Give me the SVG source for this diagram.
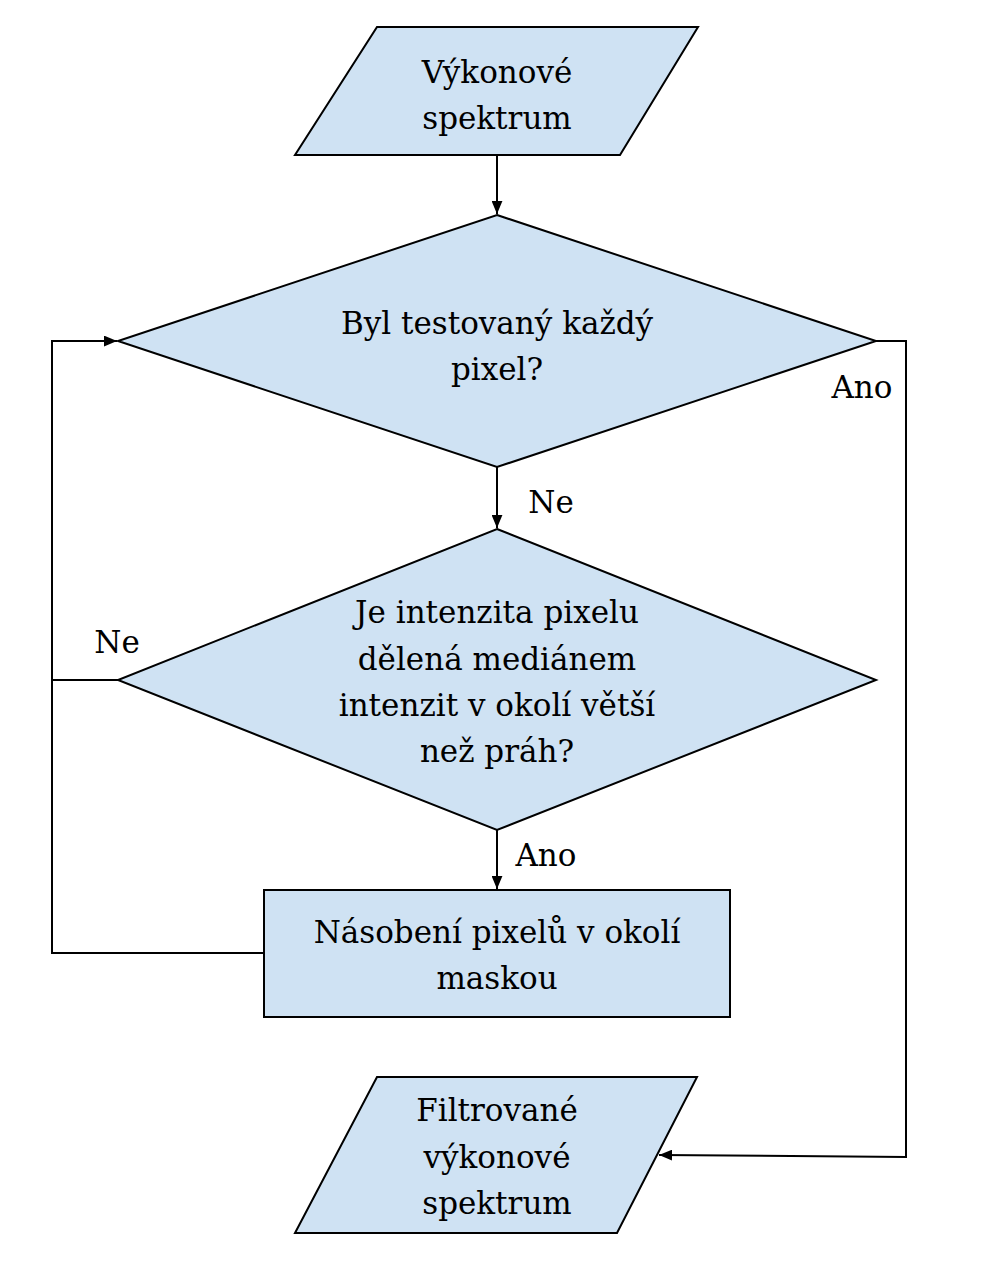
<svg xmlns="http://www.w3.org/2000/svg" width="984" height="1263" viewBox="0 0 984 1263">
<style>
.shape{fill:#cfe2f3;stroke:#000;stroke-width:2}
.c{fill:none;stroke:#000;stroke-width:2}
</style>
<defs>
<marker id="arr" viewBox="0 0 12 10" refX="12" refY="5" markerWidth="13" markerHeight="11" markerUnits="userSpaceOnUse" orient="auto">
<path d="M0,0 L12,5 L0,10 z" fill="#000"/>
</marker>
</defs>
<rect width="984" height="1263" fill="#fff"/>
<g font-family="DejaVu Serif, serif" font-size="31" text-anchor="middle" fill="#000">
<g id="connectors">
<line class="c" x1="497" y1="155" x2="497" y2="214" marker-end="url(#arr)"/>
<line class="c" x1="497" y1="467" x2="497" y2="528" marker-end="url(#arr)"/>
<line class="c" x1="497" y1="830" x2="497" y2="889" marker-end="url(#arr)"/>
<polyline class="c" points="876,341 906,341 906,1157 659,1155" marker-end="url(#arr)"/>
<polyline class="c" points="264,953 52,953 52,341 117,341" marker-end="url(#arr)"/>
<line class="c" x1="118" y1="680" x2="52" y2="680"/>
<text x="862" y="398">Ano</text>
<text x="551" y="513">Ne</text>
<text x="117" y="653">Ne</text>
<text x="546" y="866">Ano</text>
</g>
<g id="input">
<polygon class="shape" points="377,27 698,27 620,155 295,155"/>
<text x="497" y="83">Výkonové</text>
<text x="497" y="129">spektrum</text>
</g>
<g id="decision1">
<polygon class="shape" points="497,215 876,341 497,467 118,341"/>
<text x="497" y="334">Byl testovaný každý</text>
<text x="497" y="380">pixel?</text>
</g>
<g id="decision2">
<polygon class="shape" points="497,529 876,680 497,830 118,680"/>
<text x="497" y="623">Je intenzita pixelu</text>
<text x="497" y="670">dělená mediánem</text>
<text x="497" y="716">intenzit v okolí větší</text>
<text x="497" y="762">než práh?</text>
</g>
<g id="process">
<rect class="shape" x="264" y="890" width="466" height="127"/>
<text x="497" y="943">Násobení pixelů v okolí</text>
<text x="497" y="989">maskou</text>
</g>
<g id="output">
<polygon class="shape" points="377,1077 697,1077 617,1233 295,1233"/>
<text x="497" y="1121">Filtrované</text>
<text x="497" y="1168">výkonové</text>
<text x="497" y="1214">spektrum</text>
</g>
</g>
</svg>
